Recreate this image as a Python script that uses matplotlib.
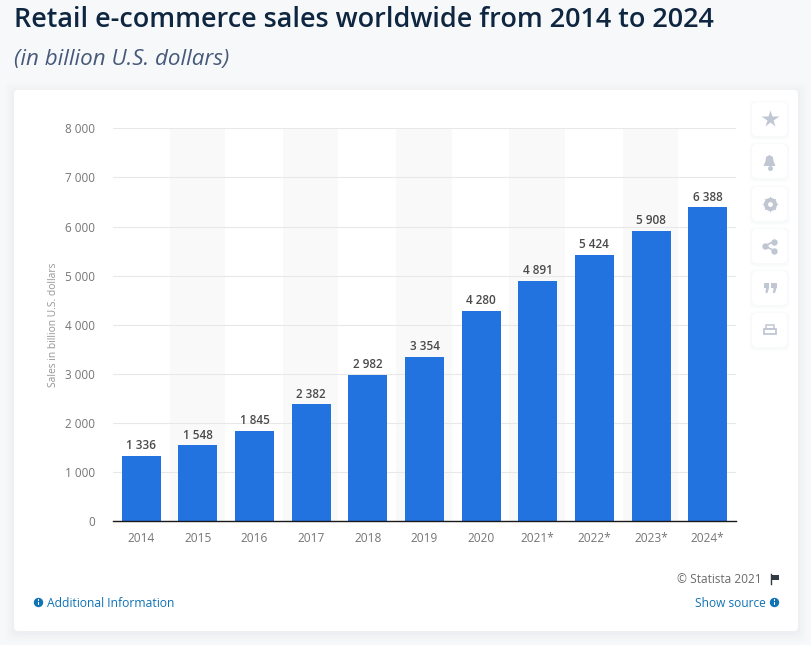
import matplotlib
matplotlib.use('Agg')
import matplotlib.pyplot as plt
from matplotlib.patches import FancyBboxPatch, Rectangle, Circle, Polygon

W, H = 811, 645
years = ['2014','2015','2016','2017','2018','2019','2020','2021*','2022*','2023*','2024*']
sales = [1336,1548,1845,2382,2982,3354,4280,4891,5424,5908,6388]
value_labels = ['1 336','1 548','1 845','2 382','2 982','3 354','4 280','4 891','5 424','5 908','6 388']
y_ticks = [0,1000,2000,3000,4000,5000,6000,7000,8000]
y_tick_labels = ['0','1 000','2 000','3 000','4 000','5 000','6 000','7 000','8 000']
title = 'Retail e-commerce sales worldwide from 2014 to 2024'
subtitle = '(in billion U.S. dollars)'
y_title = 'Sales in billion U.S. dollars'

plt.rcParams['font.family'] = ['Open Sans', 'DejaVu Sans']
fig = plt.figure(figsize=(W/100, H/100), dpi=100, facecolor='#f7f8fa')

# pixel-space background layer
bg = fig.add_axes([0, 0, 1, 1], zorder=0)
bg.set_xlim(0, W); bg.set_ylim(H, 0); bg.axis('off')
for grow, a in [(9, .006), (6, .008), (4, .010), (2, .014)]:
    bg.add_patch(FancyBboxPatch((14-grow, 90-grow+2), 784+2*grow, 541+2*grow,
                 boxstyle='round,pad=0,rounding_size=6', fc='#4a5a78', ec='none', alpha=a))
bg.add_patch(FancyBboxPatch((14, 90), 784, 541, boxstyle='round,pad=0,rounding_size=4', fc='white', ec='none'))
bg.text(14, 20, title, fontsize=19.45, fontweight='semibold', color='#0f2640', va='center', ha='left')
bg.text(14, 59, subtitle, fontsize=16.1, style='italic', color='#47597a', va='center', ha='left')

# side buttons
icon_c = '#c0c6d2'
ys = [119, 161, 204, 246, 288, 330]
for yc in ys:
    for g, a in [(3, .012), (1.5, .018)]:
        bg.add_patch(FancyBboxPatch((752-g, yc-17-g+1), 35+2*g, 34+2*g, boxstyle='round,pad=0,rounding_size=5',
                     fc='#4a5a78', ec='none', alpha=a))
    bg.add_patch(FancyBboxPatch((752, yc-17), 35, 34, boxstyle='round,pad=0,rounding_size=5', fc='white', ec='none'))
bg.plot([769.5], [119], marker='*', ms=13, color=icon_c, mec='none')
bg.add_patch(Polygon([(763.5,166),(775.5,166),(773.5,161),(773,157),(769.5,155),(766,157),(765.5,161)], fc=icon_c, ec='none'))
bg.plot([769.5], [167.5], marker='o', ms=3.5, color=icon_c, mec='none')
bg.plot([769.5], [204], marker=(8, 1, 0), ms=12, color=icon_c, mec='none')
bg.plot([769.5], [204], marker='o', ms=9.5, color=icon_c, mec='none')
bg.plot([769.5], [204], marker='o', ms=3.5, color='white', mec='none')
bg.plot([774,764.5,774], [241.5,246,250.5], color=icon_c, lw=1.2, marker='o', ms=3.6)
for x0 in (763.5, 771):
    bg.add_patch(Rectangle((x0, 283), 5.5, 5, fc=icon_c, ec='none'))
    bg.add_patch(Polygon([(x0+2.5,288),(x0+5.5,288),(x0+4,293),(x0+2,293)], fc=icon_c, ec='none'))
bg.add_patch(Rectangle((763.5, 328.5), 12, 5, fc='none', ec=icon_c, lw=1.3))
bg.add_patch(Rectangle((765.5, 325), 8, 4, fc='none', ec=icon_c, lw=1.1))

# footer
bg.text(762, 579.5, '© Statista 2021', fontsize=8.6, color='#6b6b6b', ha='right', va='center')
bg.plot([771, 771], [574, 584], color='#333a44', lw=1)
bg.add_patch(Rectangle((771, 574.5), 8, 5.5, fc='#333a44', ec='none'))
link = '#0f73b5'
bg.text(47, 603.5, 'Additional Information', fontsize=8.7, color=link, ha='left', va='center')
bg.text(766, 603.5, 'Show source', fontsize=8.6, color=link, ha='right', va='center')
for cx in (38.5, 774.5):
    bg.add_patch(Circle((cx, 602.5), 4.7, fc=link, ec='none'))
    bg.add_patch(Rectangle((cx-0.9, 601.5), 1.8, 3.6, fc='white', ec='none'))
    bg.add_patch(Rectangle((cx-0.9, 599.2), 1.8, 1.5, fc='white', ec='none'))

# chart
left, right, top, bottom = 113, 736, 128.3, 521.3
ax = fig.add_axes([left/W, 1-bottom/H, (right-left)/W, (bottom-top)/H], zorder=1)
ax.patch.set_alpha(0)
ax.set_xlim(-0.5, len(years)-0.5)
ax.set_ylim(0, 8000)
for i in range(1, len(years), 2):
    ax.axvspan(i-0.5, i+0.48, color='#f9f9f9', lw=0, zorder=0)
ax.set_yticks(y_ticks, y_tick_labels)
ax.set_xticks(range(len(years)), years)
ax.grid(axis='y', color='#e8e8e8', lw=0.8, zorder=1)
ax.set_axisbelow(True)
ax.bar(range(len(years)), sales, width=0.69, color='#2272e0', zorder=2)
for i, (v, s) in enumerate(zip(sales, value_labels)):
    ax.annotate(s, (i, v), xytext=(0, 2.6), textcoords='offset points', ha='center', va='bottom',
                fontsize=8.5, fontweight='semibold', color='#4a4a4a', zorder=3)
for s in ('top', 'left', 'right'):
    ax.spines[s].set_visible(False)
ax.spines['bottom'].set_color('#1a1a1a'); ax.spines['bottom'].set_linewidth(1)
ax.tick_params(axis='both', length=0, labelcolor='#757575')
ax.tick_params(axis='x', pad=7.5, labelsize=8.6)
ax.tick_params(axis='y', pad=13, labelsize=8.5)
fig.text(54/W, 1-325/H, y_title, rotation=90, fontsize=7.4, color='#959595', ha='center', va='center', zorder=2)

fig.savefig('out.png', dpi=100, facecolor=fig.get_facecolor())
